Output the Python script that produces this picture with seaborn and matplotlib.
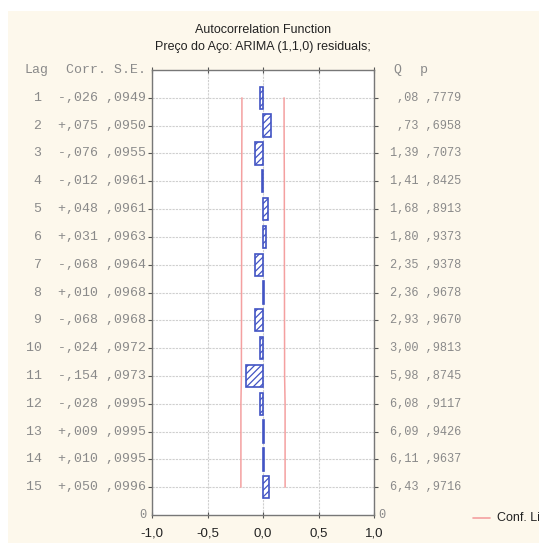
import matplotlib
matplotlib.use("Agg")
import matplotlib.pyplot as plt
import seaborn as sns
import pandas as pd
import numpy as np
from matplotlib.patches import Rectangle
from matplotlib.lines import Line2D
import matplotlib.transforms as mtransforms

# ---- data ----
lags = list(range(1, 16))
corr = [-0.026, 0.075, -0.076, -0.012, 0.048, 0.031, -0.068, 0.010,
        -0.068, -0.024, -0.154, -0.028, 0.009, 0.010, 0.050]
corr_txt = ["-,026", "+,075", "-,076", "-,012", "+,048", "+,031", "-,068", "+,010",
            "-,068", "-,024", "-,154", "-,028", "+,009", "+,010", "+,050"]
se = [0.0949, 0.0950, 0.0955, 0.0961, 0.0961, 0.0963, 0.0964, 0.0968,
      0.0968, 0.0972, 0.0973, 0.0995, 0.0995, 0.0995, 0.0996]
se_txt = [",0949", ",0950", ",0955", ",0961", ",0961", ",0963", ",0964", ",0968",
          ",0968", ",0972", ",0973", ",0995", ",0995", ",0995", ",0996"]
q_txt = [",08", ",73", "1,39", "1,41", "1,68", "1,80", "2,35", "2,36",
         "2,93", "3,00", "5,98", "6,08", "6,09", "6,11", "6,43"]
p_txt = [",7779", ",6958", ",7073", ",8425", ",8913", ",9373", ",9378", ",9678",
         ",9670", ",9813", ",8745", ",9117", ",9426", ",9637", ",9716"]
xticks = [-1.0, -0.5, 0.0, 0.5, 1.0]
xtick_labels = ["-1,0", "-0,5", "0,0", "0,5", "1,0"]
title = "Autocorrelation Function"
subtitle = "Preço do Aço: ARIMA (1,1,0) residuals;"
legend_label = "Conf. Limit"

nlag = len(lags)
ypos = [nlag + 1 - l for l in lags]
df = pd.DataFrame({"lag": lags, "corr": corr, "se": se, "ypos": ypos})
df["upper"] = 2 * df["se"]
df["lower"] = -2 * df["se"]

sns.set_style("white")
plt.rcParams["font.family"] = ["Liberation Sans", "DejaVu Sans"]
plt.rcParams["hatch.color"] = "#4254c4"
plt.rcParams["hatch.linewidth"] = 0.9

W, H = 539, 543
fig = plt.figure(figsize=(W / 100, H / 100), dpi=100, facecolor="white")
# cream panel background
fig.patches.append(Rectangle((8 / W, 0), 1, 1 - 11 / H, transform=fig.transFigure,
                             facecolor="#fdf8ec", edgecolor="none", zorder=-10))

ax = fig.add_axes([152 / W, 1 - 515 / H, (374 - 152) / W, (515 - 70) / H])
ax.set_facecolor("white")

# grid
for x in xticks:
    ax.axvline(x, color="#cfcfcf", lw=0.8, ls=(0, (2, 1)), zorder=0)
for y in ypos:
    ax.axhline(y, color="#cfcfcf", lw=0.8, ls=(0, (2, 1)), zorder=0)

# confidence limits
sns.lineplot(data=df, x="upper", y="ypos", orient="y", sort=False, ax=ax,
             color="#f4a0a0", lw=1.1, zorder=1)
sns.lineplot(data=df, x="lower", y="ypos", orient="y", sort=False, ax=ax,
             color="#f4a0a0", lw=1.1, zorder=1)

# bars
sns.barplot(data=df, x="corr", y="ypos", orient="y", native_scale=True, ax=ax,
            width=0.8, color="white", edgecolor="#4254c4", linewidth=1.2,
            errorbar=None, zorder=3)
for p in ax.patches:
    p.set_hatch("/////")
    p.set_facecolor("white")

ax.set_xlim(-1, 1)
ax.set_ylim(0, nlag + 1)
ax.set_xticks(xticks)
ax.set_xticklabels(xtick_labels, fontsize=9.5, color="#222222")
ax.set_yticks(ypos)
ax.set_yticklabels([])
ax.set_xlabel("")
ax.set_ylabel("")
for s in ax.spines.values():
    s.set_color("#777777")
    s.set_linewidth(1.0)
ax.tick_params(axis="x", which="both", top=True, bottom=True, direction="inout",
               length=4, color="#555555", pad=7)
ax.tick_params(axis="y", which="both", left=True, right=True, direction="out",
               length=3, color="#555555")

monoL = dict(family=["Liberation Mono", "DejaVu Sans Mono"], fontsize=9.5, color="#8a8a8a")
monoR = dict(family=["Liberation Mono", "DejaVu Sans Mono"], fontsize=8.6, color="#8a8a8a")
trL = mtransforms.blended_transform_factory(fig.transFigure, ax.transData)
for l, c, s, q, p, y in zip(lags, corr_txt, se_txt, q_txt, p_txt, ypos):
    ax.text(146 / W, y, f"{l:>2}  {c} {s}", transform=trL, ha="right", va="center", **monoL)
    ax.text(461 / W, y, f"{q} {p}", transform=trL, ha="right", va="center", **monoR)
ax.text(25 / W, nlag + 1, "Lag", transform=trL, ha="left", va="center", **monoL)
ax.text(146 / W, nlag + 1, "Corr. S.E.", transform=trL, ha="right", va="center", **monoL)
ax.text(397 / W, nlag + 1, "Q", transform=trL, ha="center", va="center", **monoL)
ax.text(424 / W, nlag + 1, "p", transform=trL, ha="center", va="center", **monoL)
ax.text(146 / W, 0, "0", transform=trL, ha="right", va="center", **monoR)
ax.text(378 / W, 0, "0", transform=trL, ha="left", va="center", **monoR)

fig.text(263 / W, 1 - 30 / H, title, ha="center", va="center", fontsize=9, color="#222222")
fig.text(263 / W, 1 - 47 / H, subtitle, ha="center", va="center", fontsize=9, color="#222222")

# legend (cut at right edge, as in the reference)
fig.add_artist(Line2D([473 / W, 490 / W], [1 - 518 / H] * 2, transform=fig.transFigure,
                      color="#f4a0a0", lw=1.2))
fig.text(497 / W, 1 - 518 / H, legend_label, ha="left", va="center", fontsize=9, color="#222222")

fig.savefig("out.png", dpi=100, facecolor=fig.get_facecolor())
